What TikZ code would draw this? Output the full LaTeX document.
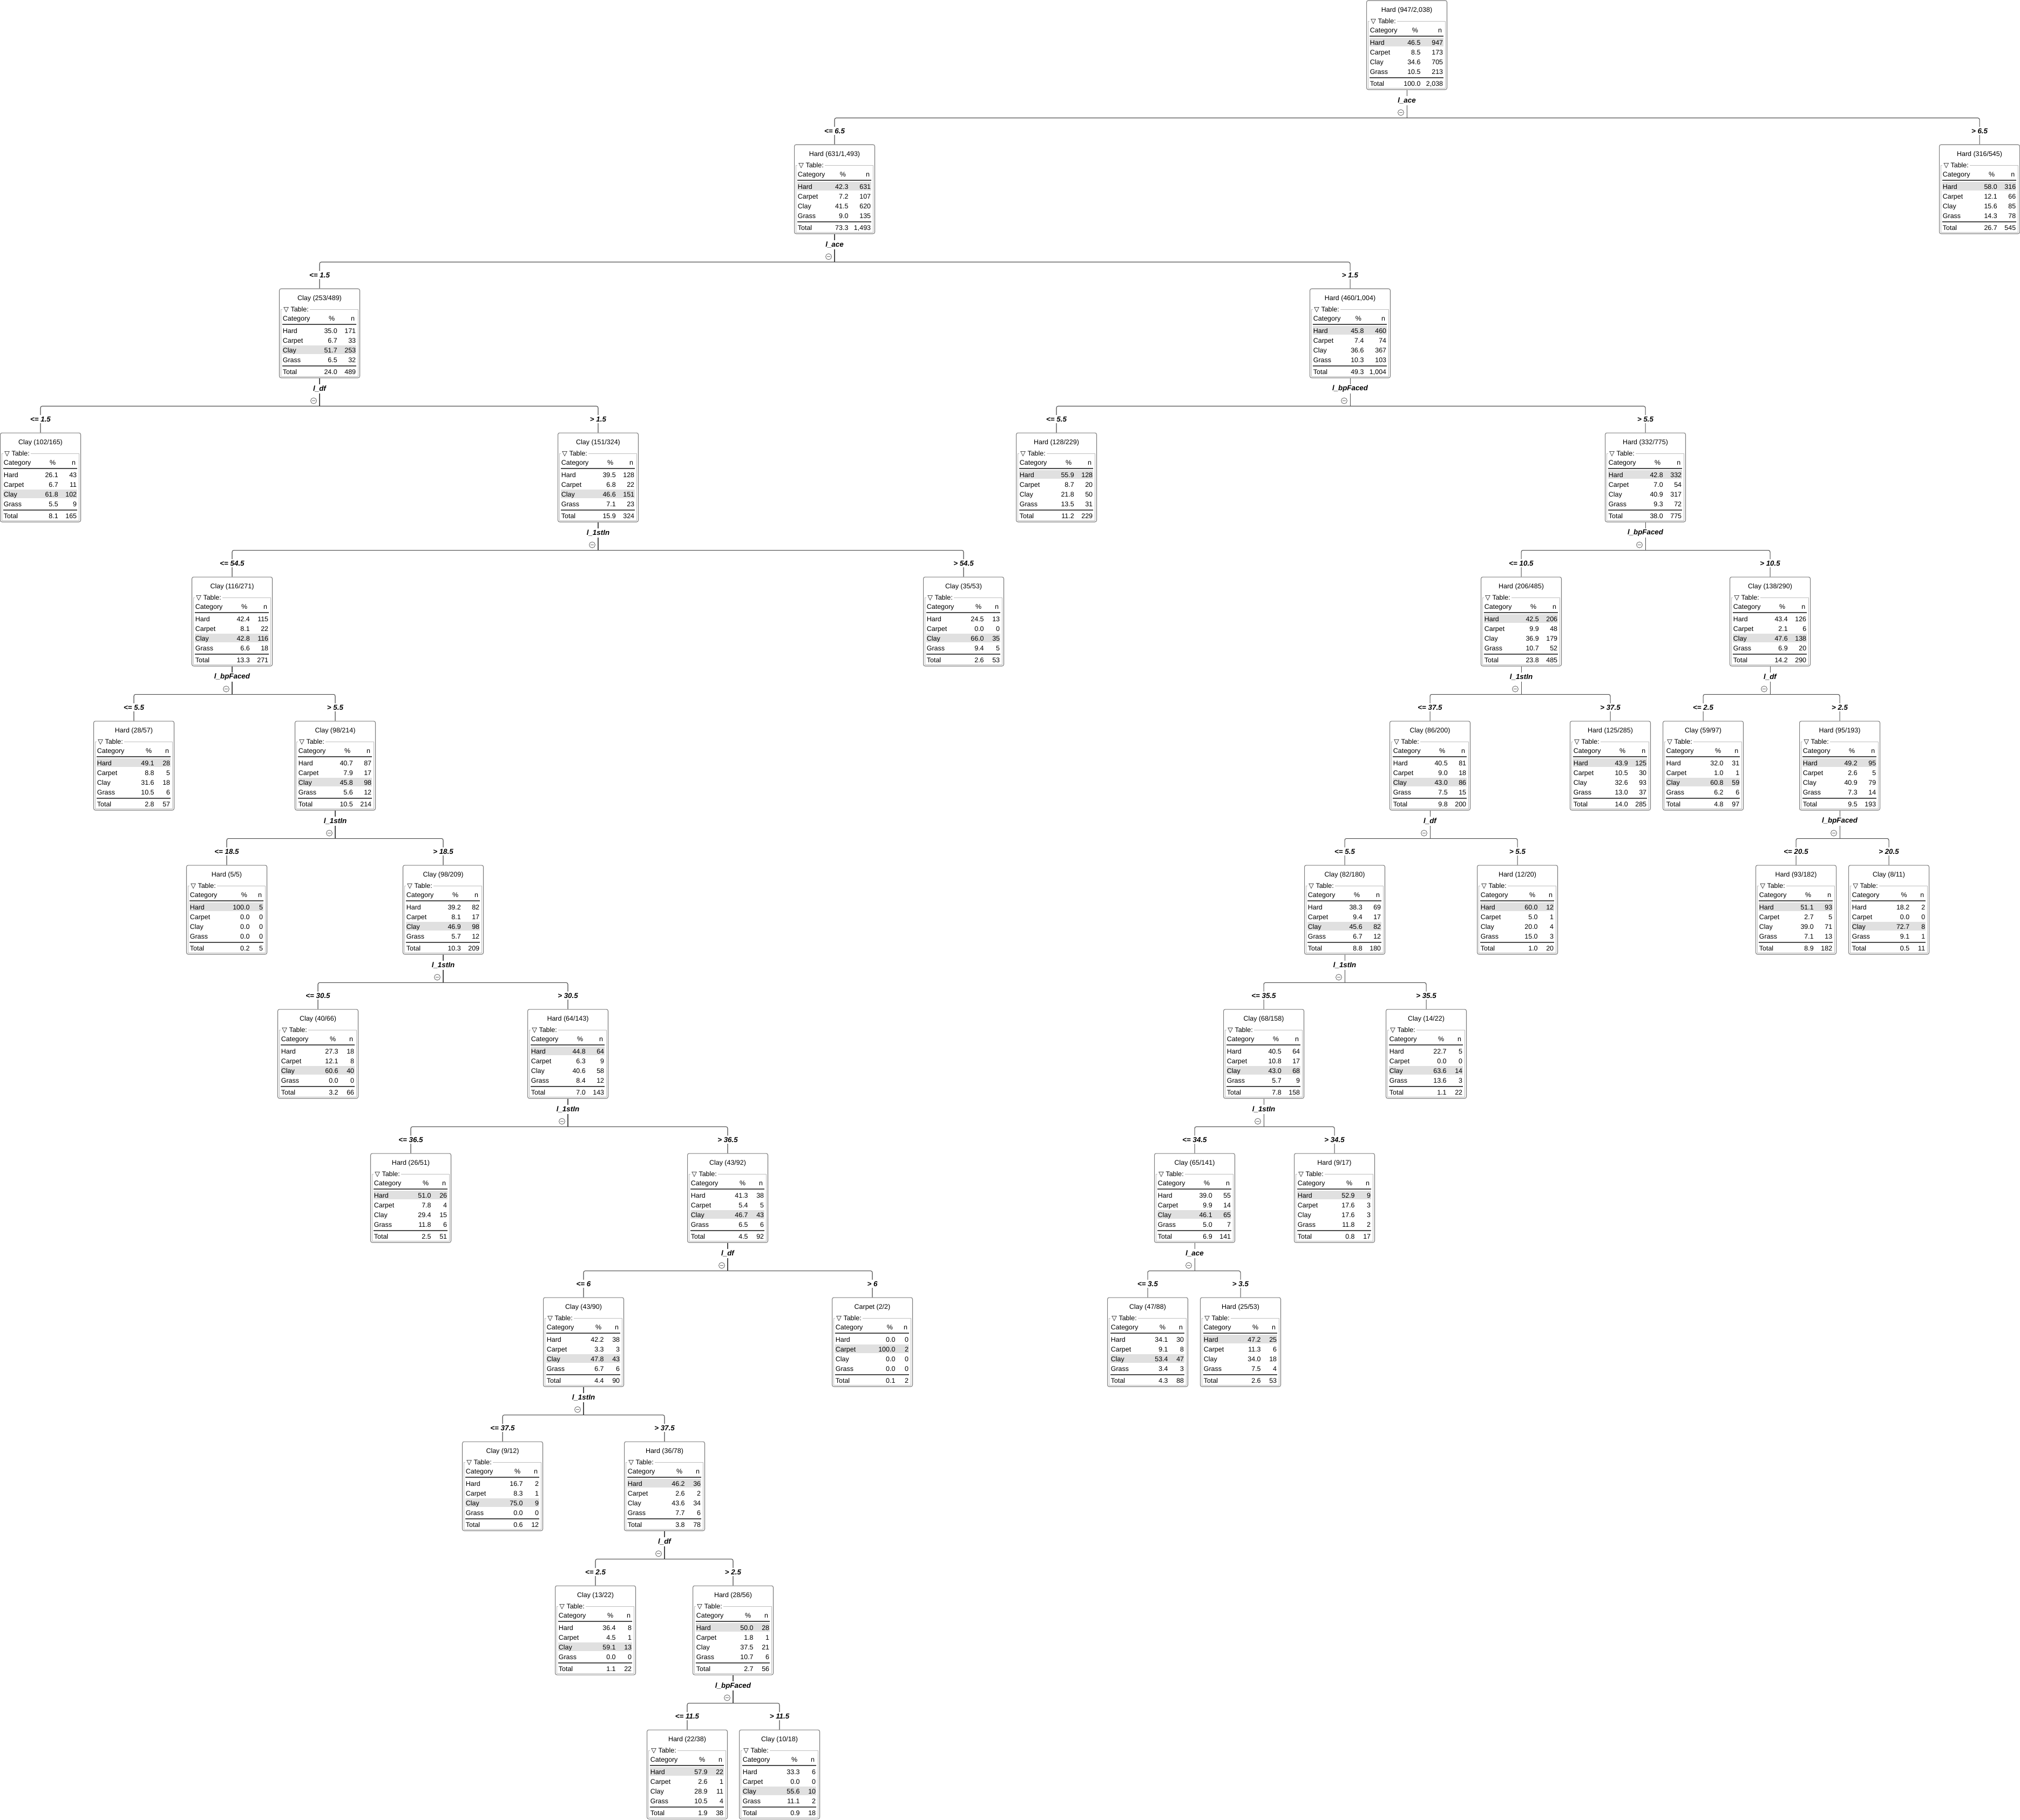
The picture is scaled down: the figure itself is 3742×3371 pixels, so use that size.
\documentclass[tikz,border=0pt]{standalone}
\usepackage{fontspec}
\setmainfont{Liberation Sans}
\newfontfamily\trifont{DejaVu Sans}
\usetikzlibrary{calc}

\definecolor{boxgray}{HTML}{7A7A7A}
\definecolor{framegray}{HTML}{BEBEBE}
\definecolor{hlgray}{HTML}{E0E0E0}
\definecolor{rulegray}{HTML}{4A4A4A}
\definecolor{edgegray}{HTML}{4A4A4A}
\definecolor{circgray}{HTML}{6A6A6A}

\newcommand{\tfont}{\fontsize{7.1pt}{8.5pt}\selectfont}
\newcommand{\tvfont}{\fontsize{7.6pt}{9pt}\selectfont\bfseries\itshape}

% tree node: name, x, level, class, highlighted row, k, N, total %, rows (%/n)
\newcommand{\treenode}[9]{%
  \pgfmathsetmacro{\ty}{1+267*#3}%
  \node[tbox] (#1) at (#2,\ty+82.5) {};
  \fill[thl] (#2-69,\ty+51+18*#5) rectangle (#2+68,\ty+67+18*#5);
  \node[ttext, anchor=base] at (#2,\ty+21.5) {#4 (#6/#7)};
  \draw[tframe] (#2-71.5,\ty+38) rectangle (#2+71.5,\ty+162);
  \node[tlegend] at (#2-69,\ty+42.5) {{\trifont ▽} Table:};
  % n column of the total row fixes where the % column ends
  \node[ttext, anchor=base east] (#1-N) at (#2+67.5,\ty+158.5) {#7};
  \coordinate (#1-P) at ($(#2+48.2,0)+0.7*(#1-N.west)-0.7*(#1-N.east)$);
  \node[ttext, anchor=base west] at (#2-68.5,\ty+59.5) {Category};
  \node[ttext, anchor=base east] at ($(#1-P)+(-4.5,\ty+59.5)$) {\%};
  \node[ttext, anchor=base east] at (#2+65.5,\ty+59.5) {n};
  \draw[trule] (#2-69,\ty+66) -- (#2+68,\ty+66);
  \foreach \pc/\nc [count=\i] in {#9} {
    \pgfmathsetmacro{\ry}{\ty+64.5+18*\i}
    \node[ttext, anchor=base west] at (#2-68.5,\ry) {\ifcase\i\or Hard\or Carpet\or Clay\or Grass\fi};
    \node[ttext, anchor=base east] at ($(#1-P)+(0,\ry)$) {\pc};
    \node[ttext, anchor=base east] at (#2+67.5,\ry) {\nc};
  }
  \draw[trule] (#2-69,\ty+143) -- (#2+68,\ty+143);
  \node[ttext, anchor=base west] at (#2-68.5,\ty+158.5) {Total};
  \node[ttext, anchor=base east] at ($(#1-P)+(0,\ty+158.5)$) {#8};
}

% split: parent, variable, left child, left label, right child, right label
\newcommand{\treesplit}[6]{%
  \draw[tedge] (#1.south) -- ++(0,52) coordinate (#1-j);
  \draw[tedge] (#1-j) -| (#3.north);
  \draw[tedge] (#1-j) -| (#5.north);
  \node[tvar] at ($(#1.south)+(0,20)$) {#2};
  \node[tcirc] at ($(#1.south)+(-11,42)$) {};
  \node[tbranch] at ($(#3.north)+(0,-25)$) {#4};
  \node[tbranch] at ($(#5.north)+(0,-25)$) {#6};
}

\begin{document}
\begin{tikzpicture}[x=0.02cm, y=-0.02cm,
    tbox/.style    = {rectangle, draw=boxgray, line width=0.6pt, rounded corners=1.8pt, minimum width=2.98cm, minimum height=3.3cm, inner sep=0},
    ttext/.style   = {font=\tfont, inner sep=0},
    tlegend/.style = {font=\tfont, fill=white, inner xsep=1.2pt, inner ysep=0.8pt, anchor=base west},
    tframe/.style  = {draw=framegray, line width=0.5pt},
    trule/.style   = {draw=rulegray, line width=0.7pt},
    thl/.style     = {fill=hlgray},
    tedge/.style   = {draw=edgegray, line width=0.6pt, rounded corners=1.8pt},
    tvar/.style    = {font=\tvfont, fill=white, inner xsep=1pt, inner ysep=1.5pt},
    tbranch/.style = {font=\tvfont, fill=white, inner xsep=1pt, inner ysep=1.5pt},
    tcirc/.style   = {circle, draw=circgray, line width=0.5pt, fill=white, minimum size=0.22cm, inner sep=0,
                      path picture={\draw[circgray, line width=0.5pt] ([xshift=1.3pt]path picture bounding box.west) -- ([xshift=-1.3pt]path picture bounding box.east);}}
  ]

  \fill[white] (0,0) rectangle (3742,3371);
  \useasboundingbox (0,0) rectangle (3742,3371);

  % --- level 0 / 1 ---
  \treenode{root}{2606}{0}{Hard}{1}{947}{2,038}{100.0}{46.5/947, 8.5/173, 34.6/705, 10.5/213}
  \treenode{n631}{1546}{1}{Hard}{1}{631}{1,493}{73.3}{42.3/631, 7.2/107, 41.5/620, 9.0/135}
  \treenode{n316}{3667}{1}{Hard}{1}{316}{545}{26.7}{58.0/316, 12.1/66, 15.6/85, 14.3/78}

  % --- level 2 / 3 ---
  \treenode{n253}{592}{2}{Clay}{3}{253}{489}{24.0}{35.0/171, 6.7/33, 51.7/253, 6.5/32}
  \treenode{n460}{2501}{2}{Hard}{1}{460}{1,004}{49.3}{45.8/460, 7.4/74, 36.6/367, 10.3/103}
  \treenode{n102}{75}{3}{Clay}{3}{102}{165}{8.1}{26.1/43, 6.7/11, 61.8/102, 5.5/9}
  \treenode{n151}{1108}{3}{Clay}{3}{151}{324}{15.9}{39.5/128, 6.8/22, 46.6/151, 7.1/23}
  \treenode{n128}{1957}{3}{Hard}{1}{128}{229}{11.2}{55.9/128, 8.7/20, 21.8/50, 13.5/31}
  \treenode{n332}{3048}{3}{Hard}{1}{332}{775}{38.0}{42.8/332, 7.0/54, 40.9/317, 9.3/72}

  % --- level 4 / 5 ---
  \treenode{n116}{430}{4}{Clay}{3}{116}{271}{13.3}{42.4/115, 8.1/22, 42.8/116, 6.6/18}
  \treenode{n35}{1785}{4}{Clay}{3}{35}{53}{2.6}{24.5/13, 0.0/0, 66.0/35, 9.4/5}
  \treenode{n206}{2818}{4}{Hard}{1}{206}{485}{23.8}{42.5/206, 9.9/48, 36.9/179, 10.7/52}
  \treenode{n138}{3279}{4}{Clay}{3}{138}{290}{14.2}{43.4/126, 2.1/6, 47.6/138, 6.9/20}
  \treenode{n28}{248}{5}{Hard}{1}{28}{57}{2.8}{49.1/28, 8.8/5, 31.6/18, 10.5/6}
  \treenode{n98a}{621}{5}{Clay}{3}{98}{214}{10.5}{40.7/87, 7.9/17, 45.8/98, 5.6/12}
  \treenode{n86}{2649}{5}{Clay}{3}{86}{200}{9.8}{40.5/81, 9.0/18, 43.0/86, 7.5/15}
  \treenode{n125}{2983}{5}{Hard}{1}{125}{285}{14.0}{43.9/125, 10.5/30, 32.6/93, 13.0/37}
  \treenode{n59}{3155}{5}{Clay}{3}{59}{97}{4.8}{32.0/31, 1.0/1, 60.8/59, 6.2/6}
  \treenode{n95}{3408}{5}{Hard}{1}{95}{193}{9.5}{49.2/95, 2.6/5, 40.9/79, 7.3/14}

  % --- level 6 / 7 ---
  \treenode{n5}{420}{6}{Hard}{1}{5}{5}{0.2}{100.0/5, 0.0/0, 0.0/0, 0.0/0}
  \treenode{n98b}{821}{6}{Clay}{3}{98}{209}{10.3}{39.2/82, 8.1/17, 46.9/98, 5.7/12}
  \treenode{n82}{2491}{6}{Clay}{3}{82}{180}{8.8}{38.3/69, 9.4/17, 45.6/82, 6.7/12}
  \treenode{n12}{2811}{6}{Hard}{1}{12}{20}{1.0}{60.0/12, 5.0/1, 20.0/4, 15.0/3}
  \treenode{n93}{3327}{6}{Hard}{1}{93}{182}{8.9}{51.1/93, 2.7/5, 39.0/71, 7.1/13}
  \treenode{n8}{3499}{6}{Clay}{3}{8}{11}{0.5}{18.2/2, 0.0/0, 72.7/8, 9.1/1}
  \treenode{n40}{589}{7}{Clay}{3}{40}{66}{3.2}{27.3/18, 12.1/8, 60.6/40, 0.0/0}
  \treenode{n64}{1052}{7}{Hard}{1}{64}{143}{7.0}{44.8/64, 6.3/9, 40.6/58, 8.4/12}
  \treenode{n68}{2341}{7}{Clay}{3}{68}{158}{7.8}{40.5/64, 10.8/17, 43.0/68, 5.7/9}
  \treenode{n14}{2642}{7}{Clay}{3}{14}{22}{1.1}{22.7/5, 0.0/0, 63.6/14, 13.6/3}

  % --- level 8 / 9 ---
  \treenode{n26}{761}{8}{Hard}{1}{26}{51}{2.5}{51.0/26, 7.8/4, 29.4/15, 11.8/6}
  \treenode{n43a}{1348}{8}{Clay}{3}{43}{92}{4.5}{41.3/38, 5.4/5, 46.7/43, 6.5/6}
  \treenode{n65}{2213}{8}{Clay}{3}{65}{141}{6.9}{39.0/55, 9.9/14, 46.1/65, 5.0/7}
  \treenode{n9a}{2472}{8}{Hard}{1}{9}{17}{0.8}{52.9/9, 17.6/3, 17.6/3, 11.8/2}
  \treenode{n43b}{1081}{9}{Clay}{3}{43}{90}{4.4}{42.2/38, 3.3/3, 47.8/43, 6.7/6}
  \treenode{n2}{1616}{9}{Carpet}{2}{2}{2}{0.1}{0.0/0, 100.0/2, 0.0/0, 0.0/0}
  \treenode{n47}{2126}{9}{Clay}{3}{47}{88}{4.3}{34.1/30, 9.1/8, 53.4/47, 3.4/3}
  \treenode{n25}{2298}{9}{Hard}{1}{25}{53}{2.6}{47.2/25, 11.3/6, 34.0/18, 7.5/4}

  % --- level 10 - 12 ---
  \treenode{n9b}{931}{10}{Clay}{3}{9}{12}{0.6}{16.7/2, 8.3/1, 75.0/9, 0.0/0}
  \treenode{n36}{1231}{10}{Hard}{1}{36}{78}{3.8}{46.2/36, 2.6/2, 43.6/34, 7.7/6}
  \treenode{n13}{1103}{11}{Clay}{3}{13}{22}{1.1}{36.4/8, 4.5/1, 59.1/13, 0.0/0}
  \treenode{n28b}{1358}{11}{Hard}{1}{28}{56}{2.7}{50.0/28, 1.8/1, 37.5/21, 10.7/6}
  \treenode{n22}{1273}{12}{Hard}{1}{22}{38}{1.9}{57.9/22, 2.6/1, 28.9/11, 10.5/4}
  \treenode{n10}{1444}{12}{Clay}{3}{10}{18}{0.9}{33.3/6, 0.0/0, 55.6/10, 11.1/2}

  % --- splits ---
  \treesplit{root}{l\_ace}{n631}{<= 6.5}{n316}{> 6.5}
  \treesplit{n631}{l\_ace}{n253}{<= 1.5}{n460}{> 1.5}
  \treesplit{n253}{l\_df}{n102}{<= 1.5}{n151}{> 1.5}
  \treesplit{n460}{l\_bpFaced}{n128}{<= 5.5}{n332}{> 5.5}
  \treesplit{n151}{l\_1stIn}{n116}{<= 54.5}{n35}{> 54.5}
  \treesplit{n332}{l\_bpFaced}{n206}{<= 10.5}{n138}{> 10.5}
  \treesplit{n116}{l\_bpFaced}{n28}{<= 5.5}{n98a}{> 5.5}
  \treesplit{n206}{l\_1stIn}{n86}{<= 37.5}{n125}{> 37.5}
  \treesplit{n138}{l\_df}{n59}{<= 2.5}{n95}{> 2.5}
  \treesplit{n98a}{l\_1stIn}{n5}{<= 18.5}{n98b}{> 18.5}
  \treesplit{n86}{l\_df}{n82}{<= 5.5}{n12}{> 5.5}
  \treesplit{n95}{l\_bpFaced}{n93}{<= 20.5}{n8}{> 20.5}
  \treesplit{n98b}{l\_1stIn}{n40}{<= 30.5}{n64}{> 30.5}
  \treesplit{n82}{l\_1stIn}{n68}{<= 35.5}{n14}{> 35.5}
  \treesplit{n64}{l\_1stIn}{n26}{<= 36.5}{n43a}{> 36.5}
  \treesplit{n68}{l\_1stIn}{n65}{<= 34.5}{n9a}{> 34.5}
  \treesplit{n43a}{l\_df}{n43b}{<= 6}{n2}{> 6}
  \treesplit{n65}{l\_ace}{n47}{<= 3.5}{n25}{> 3.5}
  \treesplit{n43b}{l\_1stIn}{n9b}{<= 37.5}{n36}{> 37.5}
  \treesplit{n36}{l\_df}{n13}{<= 2.5}{n28b}{> 2.5}
  \treesplit{n28b}{l\_bpFaced}{n22}{<= 11.5}{n10}{> 11.5}

\end{tikzpicture}
\end{document}
